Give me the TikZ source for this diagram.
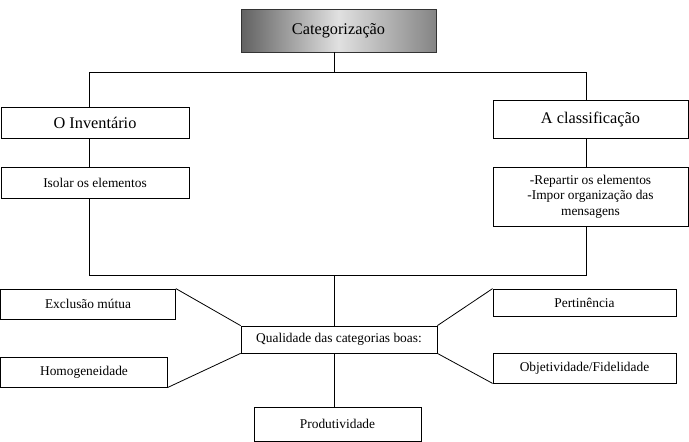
\documentclass[tikz,border=0pt]{standalone}
\usepackage{tikz}
\usepackage{xcolor}
\usepackage{fontspec}
\setmainfont{Liberation Serif}

\begin{document}
\begin{tikzpicture}[x=1pt,y=-1pt,
  caixa/.style={draw, line width=0.8pt, inner sep=0pt, align=center,
    font=\fontsize{13.4}{15.5}\selectfont},
  caixagrande/.style={caixa, font=\fontsize{16.3}{19}\selectfont},
  liga/.style={line width=0.8pt}]

% ============================================================
% parametros
% ============================================================

\def\LarguraTopo{195}   % largura das caixas de cima
\def\XEsq{89}           % linha vertical da esquerda
\def\XDir{586}          % linha vertical da direita
\def\XMeio{334}         % linha vertical do meio

\useasboundingbox (0,0) rectangle (689,442);

% ============================================================
% caixa do topo
% ============================================================

\node[caixagrande, draw=gray!40!black, left color=black!62, right color=black!48,
      middle color=black!12, minimum width=\LarguraTopo, minimum height=43]
  (cat) at (338.5,30.5) {Categorização};

\coordinate (tm) at (\XMeio,72);
\coordinate (tl) at (\XEsq,72);
\coordinate (tr) at (\XDir,72);
\coordinate (bl) at (\XEsq,275);
\coordinate (bm) at (\XMeio,275);
\coordinate (br) at (\XDir,275);

% ============================================================
% ramo da esquerda e da direita
% ============================================================

\node[caixagrande, minimum width=188, minimum height=31] (inv) at (95,122.5) {O Inventário};
\node[caixa, minimum width=188, minimum height=31] (iso) at (95,182.5) {Isolar os elementos};

\node[caixagrande, minimum width=\LarguraTopo, minimum height=38] (cla) at (590.5,119) {A classificação};
\node[caixa, minimum width=\LarguraTopo, minimum height=59] (rep) at (590.5,196.5)
  {-Repartir os elementos\\-Impor organização das\\mensagens};

\draw[liga] (cat.south -| tm) -- (tm);
\draw[liga] (tl) -- (tr);
\draw[liga] (tl) -- (inv.north -| tl);
\draw[liga] (inv.south -| tl) -- (iso.north -| tl);
\draw[liga] (tr) -- (cla.north -| tr);
\draw[liga] (cla.south -| tr) -- (rep.north -| tr);
\draw[liga] (iso.south -| bl) -- (bl) -- (br) -- (rep.south -| br);

% ============================================================
% qualidade das categorias
% ============================================================

\node[caixa, minimum width=196, minimum height=27] (qual) at (339,339.5) {Qualidade das categorias boas:};

\node[caixa, minimum width=175, minimum height=30] (exc) at (88,304) {Exclusão mútua};
\node[caixa, minimum width=167, minimum height=30] (hom) at (84,372) {Homogeneidade};
\node[caixa, minimum width=183, minimum height=27] (per) at (584.5,302.5) {Pertinência};
\node[caixa, minimum width=183, minimum height=30] (obj) at (584.5,368) {Objetividade/Fidelidade};
\node[caixa, minimum width=167, minimum height=34] (prod) at (337.5,424) {Produtividade};

\draw[liga] (bm) -- (qual.north -| bm);
\draw[liga] (qual.south -| bm) -- (prod.north -| bm);
\draw[liga] (exc.north east) -- (qual.north west);
\draw[liga] (hom.south east) -- (qual.south west);
\draw[liga] (qual.north east) -- (per.north west);
\draw[liga] (qual.south east) -- (obj.south west);

\end{tikzpicture}
\end{document}
